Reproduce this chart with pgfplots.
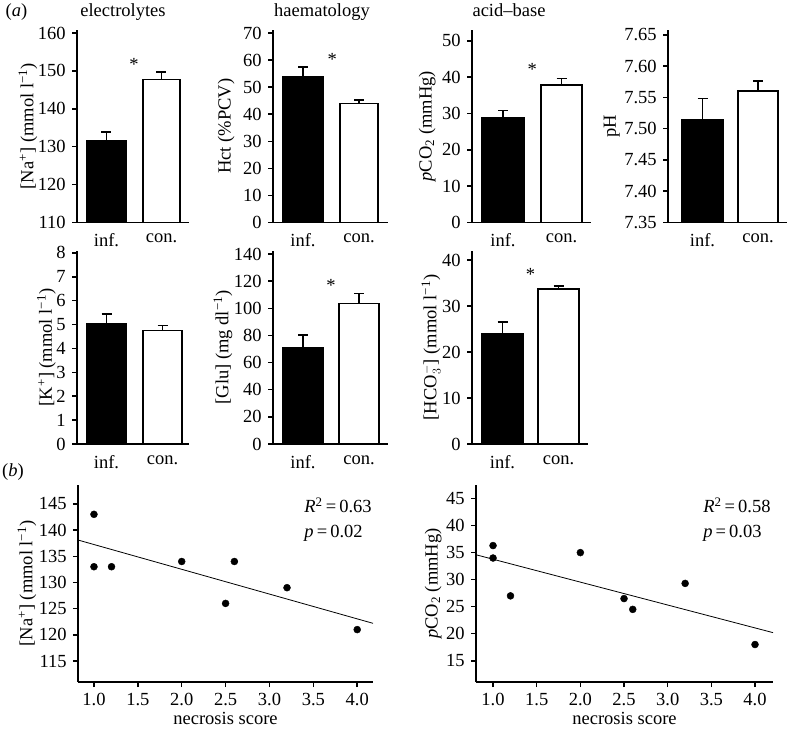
\documentclass[border=0pt]{standalone}
\usepackage{fontspec}
\setmainfont{Liberation Serif}
\usepackage{pgfplots}
\pgfplotsset{compat=1.18}
\pgfplotsset{
  base/.style={scale only axis, axis lines=left,
    axis line style={-, line width=1.5pt},
    tick align=outside, tick pos=left, major tick length=5pt,
    tick style={line width=1.5pt, black},
    ylabel shift=-12pt,
    /pgf/number format/assume math mode=true},
  barax/.style={base, xtick={0,1}, xticklabels={inf.,con.}, xtick style={draw=none}},
  infbar/.style={ybar, bar shift=0pt, fill=black, draw=black, line width=1.5pt,
    error bars/.cd, y dir=plus, y explicit,
    error bar style={line width=1.5pt, black},
    error mark options={rotate=90, line width=1.5pt, mark size=5pt, black}},
  conbar/.style={ybar, bar shift=0pt, fill=white, draw=black, line width=1.5pt,
    error bars/.cd, y dir=plus, y explicit,
    error bar style={line width=1.5pt, black},
    error mark options={rotate=90, line width=1.5pt, mark size=5pt, black}},
  scax/.style={base, xtick={1,1.5,...,4},
    xticklabel style={/pgf/number format/.cd, fixed, fixed zerofill, precision=1},
    xlabel={necrosis score}, xlabel shift=-6pt},
}
\begin{document}
\fontsize{18.5}{22}\selectfont
\begin{tikzpicture}
\useasboundingbox (0pt,0pt) rectangle (787pt,729pt);
\node[anchor=base] at (16.5pt,712pt) {(\textit{a})};
\node[anchor=base] at (123pt,712pt) {electrolytes};
\node[anchor=base] at (322pt,712pt) {haematology};
\node[anchor=base] at (509pt,712pt) {acid–base};
\node[anchor=base] at (13pt,252pt) {(\textit{b})};

% Na
\begin{axis}[barax, anchor=south west, at={(77pt,506.5pt)}, width=112pt, height=192.5pt,
  xmin=-0.536, xmax=1.5, ymin=110, ymax=160.8, ytick={110,120,...,160},
  ylabel={[Na\textsuperscript{+}] (mmol l\textsuperscript{−1})}]
\addplot[bar width=39pt, infbar] coordinates {(0,131.7) +- (0,2.2)};
\addplot[bar width=37pt, conbar] coordinates {(1,147.8) +- (0,1.9)};
\node at (axis cs:0.5,151.8) {*};
\end{axis}
% Hct
\begin{axis}[barax, anchor=south west, at={(273pt,506.5pt)}, width=115pt, height=192.5pt,
  xmin=-0.536, xmax=1.518, ymin=0, ymax=71.1, ytick={0,10,...,70},
  ylabel shift=-4pt, ylabel={Hct (\%PCV)}]
\addplot[bar width=40pt, infbar] coordinates {(0,53.7) +- (0,3.7)};
\addplot[bar width=38pt, conbar] coordinates {(1,44.0) +- (0,1.3)};
\node at (axis cs:0.52,60.2) {*};
\end{axis}
% pCO2
\begin{axis}[barax, anchor=south west, at={(472pt,506.5pt)}, width=119pt, height=192.5pt,
  xmin=-0.53, xmax=1.504, ymin=0, ymax=53, ytick={0,10,...,50},
  ylabel shift=-6pt, ylabel={\textit{p}CO\textsubscript{2} (mmHg)}]
\addplot[bar width=42pt, infbar] coordinates {(0,28.95) +- (0,1.95)};
\addplot[bar width=41pt, conbar] coordinates {(1,37.9) +- (0,1.8)};
\node at (axis cs:0.5,42.1) {*};
\end{axis}
% pH
\begin{axis}[barax, anchor=south west, at={(668pt,506.5pt)}, width=119pt, height=192.5pt,
  xmin=-0.622, xmax=1.522, ymin=7.35, ymax=7.658,
  ytick={7.35,7.40,7.45,7.50,7.55,7.60,7.65},
  yticklabel style={/pgf/number format/.cd, fixed, fixed zerofill, precision=2},
  ylabel shift=-8pt, ylabel={pH}]
\addplot[bar width=41pt, infbar] coordinates {(0,7.515) +- (0,0.033)};
\addplot[bar width=40pt, conbar] coordinates {(1,7.56) +- (0,0.016)};
\end{axis}

% K
\begin{axis}[barax, anchor=south west, at={(77pt,285pt)}, width=112pt, height=193pt,
  xmin=-0.527, xmax=1.473, ymin=0, ymax=8.08, ytick={0,1,...,8},
  ylabel={[K\textsuperscript{+}] (mmol l\textsuperscript{−1})}]
\addplot[bar width=39pt, infbar] coordinates {(0,5.03) +- (0,0.42)};
\addplot[bar width=39pt, conbar] coordinates {(1,4.75) +- (0,0.21)};
\end{axis}
% Glu
\begin{axis}[barax, anchor=south west, at={(273pt,285pt)}, width=115pt, height=193pt,
  xmin=-0.536, xmax=1.518, ymin=0, ymax=142.2, ytick={0,20,...,140},
  ylabel shift=-11pt, ylabel={[Glu] (mg dl\textsuperscript{−1})}]
\addplot[bar width=40pt, infbar] coordinates {(0,71.2) +- (0,9.1)};
\addplot[bar width=40pt, conbar] coordinates {(1,103.4) +- (0,7.6)};
\node at (axis cs:0.5,117) {*};
\end{axis}
% HCO3
\begin{axis}[barax, anchor=south west, at={(472pt,285pt)}, width=116pt, height=193pt,
  xmin=-0.545, xmax=1.527, ymin=0, ymax=42, ytick={0,10,...,40},
  ylabel shift=-11pt, ylabel={[HCO$_{3}^{-}$] (mmol l\textsuperscript{−1})}]
\addplot[bar width=41pt, infbar] coordinates {(0,24.0) +- (0,2.6)};
\addplot[bar width=41pt, conbar] coordinates {(1,33.7) +- (0,0.7)};
\node at (axis cs:0.5,37.0) {*};
\end{axis}

% scatter Na
\begin{axis}[scax, anchor=south west, at={(78pt,47pt)}, width=295pt, height=197pt,
  xmin=0.818, xmax=4.18, ymin=111, ymax=148.6, ytick={115,120,...,145},
  ylabel shift=-10pt, ylabel={[Na\textsuperscript{+}] (mmol l\textsuperscript{−1})}]
\addplot[black, line width=0.8pt] coordinates {(0.818,138.1) (4.18,122.2)};
\addplot[only marks, mark=*, mark size=3.5pt, black] coordinates {
  (1,143) (1,133) (1.2,133) (2,134) (2.5,126) (2.6,134) (3.2,129) (4,121)};
\node[anchor=base west] at (rel axis cs:0.746,0.86) {\textit{R}\textsuperscript{2}\,=\,0.63};
\node[anchor=base west] at (rel axis cs:0.746,0.735) {\textit{p}\,=\,0.02};
\end{axis}
% scatter pCO2
\begin{axis}[scax, anchor=south west, at={(476pt,47pt)}, width=297pt, height=197pt,
  xmin=0.805, xmax=4.206, ymin=11.07, ymax=47.5, ytick={15,20,...,45},
  ylabel shift=-8pt, ylabel={\textit{p}CO\textsubscript{2} (mmHg)}]
\addplot[black, line width=0.8pt] coordinates {(0.805,34.6) (4.206,20.2)};
\addplot[only marks, mark=*, mark size=3.5pt, black] coordinates {
  (1,36.3) (1,34.0) (1.2,27.0) (2,35.0) (2.5,26.5) (2.6,24.5) (3.2,29.3) (4,18.0)};
\node[anchor=base west] at (rel axis cs:0.744,0.86) {\textit{R}\textsuperscript{2}\,=\,0.58};
\node[anchor=base west] at (rel axis cs:0.744,0.735) {\textit{p}\,=\,0.03};
\end{axis}
\end{tikzpicture}
\end{document}
